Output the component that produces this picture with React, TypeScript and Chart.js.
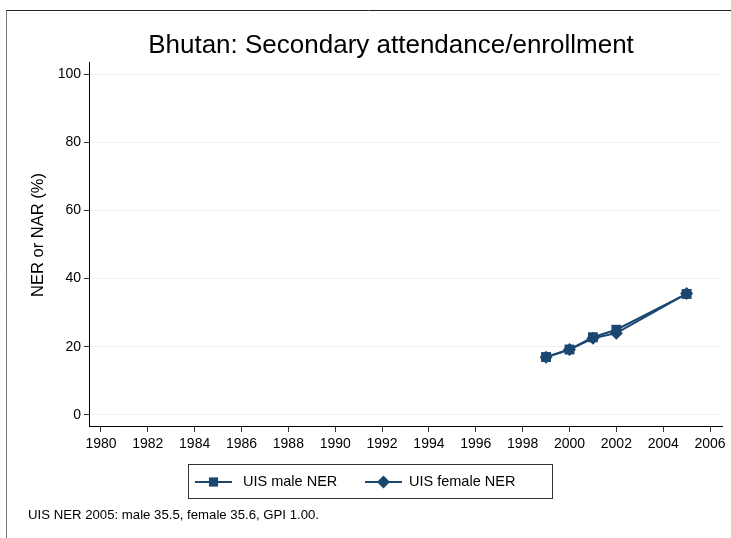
import React, { useEffect, useRef } from "react";
import { Chart, registerables } from "chart.js";

Chart.register(...registerables);

// ---- data ----
const years = [1999, 2000, 2001, 2002, 2005];
const maleNER = [17.0, 19.2, 22.8, 25.0, 35.5];
const femaleNER = [16.9, 19.2, 22.5, 24.0, 35.6];
const xTicks = [1980, 1982, 1984, 1986, 1988, 1990, 1992, 1994, 1996, 1998, 2000, 2002, 2004, 2006];
const yTicks = [0, 20, 40, 60, 80, 100];
const seriesLabels = ["UIS male NER", "UIS female NER"];
const titleText = "Bhutan: Secondary attendance/enrollment";
const yTitleText = "NER or NAR (%)";
const noteText = "UIS NER 2005: male 35.5, female 35.6, GPI 1.00.";

const NAVY = "#1a476f";
const FONT = '"Liberation Sans", Arial, Helvetica, sans-serif';

function drawMarker(ctx: CanvasRenderingContext2D, style: string, x: number, y: number, r: number) {
  ctx.beginPath();
  if (style === "rect") {
    const s = Math.SQRT1_2 * r;
    ctx.rect(x - s, y - s, 2 * s, 2 * s);
  } else {
    ctx.moveTo(x, y - r);
    ctx.lineTo(x + r, y);
    ctx.lineTo(x, y + r);
    ctx.lineTo(x - r, y);
    ctx.closePath();
  }
  ctx.fill();
}

const decorPlugin = {
  id: "decor",
  afterDraw(chart: any) {
    const ctx: CanvasRenderingContext2D = chart.ctx;
    ctx.save();
    // outer frame (top + left)
    ctx.lineWidth = 1;
    ctx.strokeStyle = "#222";
    ctx.beginPath();
    ctx.moveTo(6, 10.5);
    ctx.lineTo(731, 10.5);
    ctx.stroke();
    ctx.strokeStyle = "#777";
    ctx.beginPath();
    ctx.moveTo(6.5, 10.5);
    ctx.lineTo(6.5, 538);
    ctx.stroke();

    // title
    ctx.fillStyle = "#000";
    ctx.font = `26px ${FONT}`;
    ctx.textAlign = "center";
    ctx.textBaseline = "alphabetic";
    ctx.fillText(titleText, 391, 53);

    // y title
    ctx.save();
    ctx.translate(38, 235);
    ctx.rotate(-Math.PI / 2);
    ctx.font = `16.5px ${FONT}`;
    ctx.textAlign = "center";
    ctx.textBaseline = "middle";
    ctx.fillText(yTitleText, 0, 0);
    ctx.restore();

    // legend box
    const bx = 188.5, by = 464.5, bw = 364, bh = 34;
    ctx.strokeStyle = "#333";
    ctx.lineWidth = 1;
    ctx.strokeRect(bx, by, bw, bh);
    const ly = 482;
    const items = [
      { x0: 195, x1: 232, tx: 243 },
      { x0: 365, x1: 402, tx: 409 },
    ];
    ctx.font = `14.5px ${FONT}`;
    ctx.textAlign = "left";
    ctx.textBaseline = "middle";
    chart.data.datasets.forEach((ds: any, i: number) => {
      const it = items[i];
      ctx.strokeStyle = ds.borderColor;
      ctx.lineWidth = 2;
      ctx.beginPath();
      ctx.moveTo(it.x0, ly);
      ctx.lineTo(it.x1, ly);
      ctx.stroke();
      ctx.fillStyle = ds.backgroundColor;
      drawMarker(ctx, ds.pointStyle, (it.x0 + it.x1) / 2, ly, 6.5);
      ctx.fillStyle = "#000";
      ctx.fillText(seriesLabels[i], it.tx, ly);
    });

    // note
    ctx.fillStyle = "#000";
    ctx.font = `13.2px ${FONT}`;
    ctx.textAlign = "left";
    ctx.textBaseline = "middle";
    ctx.fillText(noteText, 28, 515);
    ctx.restore();
  },
};

export default function App() {
  const ref = useRef<HTMLCanvasElement | null>(null);
  useEffect(() => {
    if (!ref.current) return;
    const chart = new Chart(ref.current, {
      type: "line",
      data: {
        datasets: [
          {
            label: seriesLabels[0],
            data: years.map((y, i) => ({ x: y, y: maleNER[i] })),
            borderColor: NAVY,
            backgroundColor: NAVY,
            borderWidth: 2,
            pointStyle: "rect",
            pointRadius: 7,
            pointBorderWidth: 0,
            pointHoverRadius: 7,
          },
          {
            label: seriesLabels[1],
            data: years.map((y, i) => ({ x: y, y: femaleNER[i] })),
            borderColor: NAVY,
            backgroundColor: NAVY,
            borderWidth: 2,
            pointStyle: "rectRot",
            pointRadius: 6.5,
            pointBorderWidth: 0,
            pointHoverRadius: 6.5,
          },
        ],
      },
      options: {
        animation: false,
        responsive: false,
        devicePixelRatio: 1,
        layout: { padding: { left: 0, top: 62, right: 9, bottom: 72 } },
        plugins: {
          legend: { display: false },
          title: { display: false },
          tooltip: { enabled: false },
        },
        scales: {
          x: {
            type: "linear",
            min: 1979.49,
            max: 2006.51,
            afterBuildTicks: (s: any) => {
              s.ticks = xTicks.map((v) => ({ value: v }));
            },
            afterFit: (s: any) => {
              s.height = 40;
              s.paddingLeft = 0;
              s.paddingRight = 0;
            },
            grid: {
              drawOnChartArea: false,
              drawTicks: true,
              tickLength: 6,
              tickColor: "#333",
            },
            border: { color: "#000", width: 1 },
            ticks: {
              autoSkip: false,
              maxRotation: 0,
              padding: 4,
              color: "#000",
              font: { family: FONT, size: 14 },
              callback: (v: any) => String(v),
            },
          },
          y: {
            type: "linear",
            min: -3.23,
            max: 103.52,
            afterBuildTicks: (s: any) => {
              s.ticks = yTicks.map((v) => ({ value: v }));
            },
            afterFit: (s: any) => {
              s.width = 89;
            },
            grid: {
              color: "#eaf2f3",
              lineWidth: 1,
              drawTicks: true,
              tickLength: 5,
              tickColor: "#333",
            },
            border: { color: "#000", width: 1 },
            ticks: {
              padding: 3,
              color: "#000",
              font: { family: FONT, size: 14 },
              callback: (v: any) => String(v),
            },
          },
        },
      },
      plugins: [decorPlugin],
    });
    return () => chart.destroy();
  }, []);
  return (
    <div style={{ position: "absolute", left: 0, top: 0, width: 731, height: 538, background: "#fff" }}>
      <canvas ref={ref} width={731} height={538} />
    </div>
  );
}
